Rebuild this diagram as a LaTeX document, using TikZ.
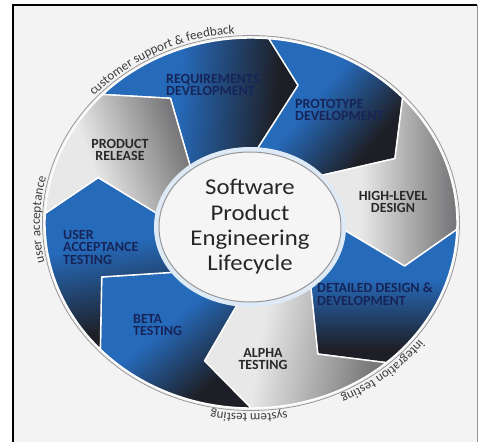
\documentclass[tikz,border=0pt]{standalone}
\usepackage{fontspec}
\setmainfont{Carlito}
\newfontfamily\hubfont[FakeStretch=1.1]{Carlito}
\usepackage{xcolor}
\usepackage{tikz}
\usetikzlibrary{shapes.geometric, decorations.text}

\definecolor{segblue}{RGB}{38,106,186}
\definecolor{segdark}{RGB}{30,31,38}
\definecolor{greylight}{RGB}{232,232,232}
\definecolor{greydark}{RGB}{120,120,122}
\definecolor{labelnavy}{RGB}{22,36,88}
\definecolor{labelgrey}{RGB}{40,40,40}
\definecolor{paper}{RGB}{243,243,243}
\definecolor{halo}{RGB}{222,234,246}
\definecolor{rimgrey}{RGB}{150,150,152}
\definecolor{arcgrey}{RGB}{60,60,60}

\pgfdeclareverticalshading{bluefade}{100bp}{color(0bp)=(segdark); color(30bp)=(segdark); color(56bp)=(segblue); color(100bp)=(segblue)}
\pgfdeclareverticalshading{greyfade}{100bp}{color(0bp)=(greydark); color(27bp)=(greydark); color(60bp)=(greylight); color(100bp)=(greylight)}

\newcommand{\labelfont}{\fontsize{14}{12.5}\selectfont\bfseries}
\newcommand{\arcfont}{\fontsize{13}{13}\selectfont}

\begin{document}
\begin{tikzpicture}[x=1pt, y=1pt,
    segment/.style={draw=white, line width=1.4pt, line join=round},
    seglabel/.style={font=\labelfont, inner sep=0pt, text=labelnavy},
    greylabel/.style={seglabel, text=labelgrey},
    arctext/.style={decorate, decoration={text along path, text align=center, text={|\arcfont\color{arcgrey}|#1}}}]
    \useasboundingbox (-251,-219) rectangle (228,223);

    % Frame
    \fill[white] (-251,-219) rectangle (228,223);
    \fill[paper] (-238,-219) rectangle (226,218);
    \draw[line width=2pt] (-238,-219) -- (-238,218) -- (226,218);
    \draw[rimgrey, line width=1.5pt] (226.5,218) -- (226.5,-219);

    % Outer rim
    \draw[rimgrey, line width=0.8pt] (0,0) ellipse [x radius=208.5, y radius=187.5];

    % Segments: outer/tip/inner angle of both ends, shading, angle
    \foreach \ao/\at/\ai/\bo/\bt/\bi/\shname/\shang in {
        136/120/133/85/73/86/bluefade/85,
        85/73/86/42.6/26.6/39.5/bluefade/50,
        42.6/26.6/39.5/-2/-17.4/-3/greyfade/90,
        -2/-17.4/-3/-49/-65.5/-48/bluefade/0,
        -49/-65.5/-48/-90/-106.8/-96/greyfade/80,
        -90/-106.8/-96/-137/-158/-139/bluefade/40,
        -137/-158/-139/-183/-198.4/-184.5/bluefade/10,
        177/161.6/175.5/136/120/133/greyfade/110} {
        \shadedraw[segment, shading=\shname, shading angle=\shang]
            (\ao:206 and 185) arc[start angle=\ao, end angle=\bo, x radius=206, y radius=185]
            -- (\bt:161 and 144) -- (\bi:88 and 74)
            arc[start angle=\bi, end angle=\ai, x radius=88, y radius=74]
            -- (\at:161 and 144) -- cycle;
    }

    % Hub
    \fill[halo] (-1,-4) ellipse [x radius=96, y radius=80];
    \node[ellipse, fill=white!96!black, draw=rimgrey, line width=1pt, inner sep=0pt,
        minimum width=182, minimum height=150, align=center, text=black!85,
        font=\hubfont\fontsize{22.5}{25.3}\selectfont] (hub) at (-1,-4)
        {Software\\Product\\Engineering\\Lifecycle};

    % Stage labels
    \node[seglabel, anchor=west, align=left] (req) at (-85,138) {REQUIREMENTS\\DEVELOPMENT};
    \node[seglabel, anchor=west, align=left] (proto) at (44,113) {PROTOTYPE\\DEVELOPMENT};
    \node[greylabel, align=center] (hld) at (142,21) {HIGH-LEVEL\\DESIGN};
    \node[seglabel, anchor=west, align=left] (detail) at (66,-71) {DETAILED DESIGN \&\\DEVELOPMENT};
    \node[greylabel, align=center] (alpha) at (12,-136) {ALPHA\\TESTING};
    \node[seglabel, anchor=west, align=left] (beta) at (-118,-102) {BETA\\TESTING};
    \node[seglabel, anchor=west, align=left] (uat) at (-188,-24) {USER\\ACCEPTANCE\\TESTING};
    \node[greylabel, align=center] (release) at (-131,73) {PRODUCT\\RELEASE};

    % Transition labels round the rim
    \path[arctext={customer support {\&} feedback}]
        (146.5:211 and 190) arc[start angle=146.5, end angle=86.5, x radius=211, y radius=190];
    \path[arctext={user acceptance}]
        (196:211 and 190) arc[start angle=196, end angle=162, x radius=211, y radius=190];
    \path[arctext={integration testing}]
        (-29:212 and 191) arc[start angle=-29, end angle=-73, x radius=212, y radius=191];
    \path[arctext={system testing}]
        (-73:212 and 191) arc[start angle=-73, end angle=-108, x radius=212, y radius=191];
\end{tikzpicture}
\end{document}
